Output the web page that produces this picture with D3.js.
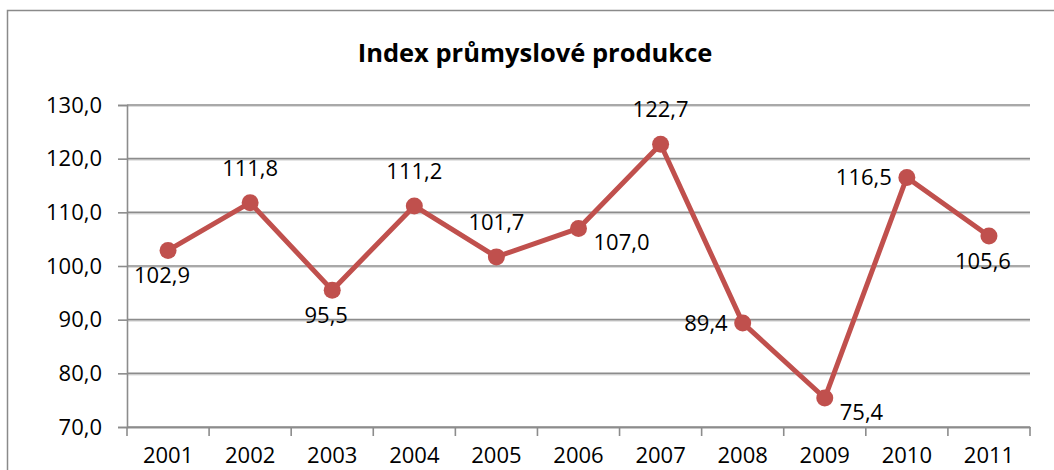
<!DOCTYPE html>
<html><head><meta charset="utf-8">
<script src="https://cdn.jsdelivr.net/npm/d3@7"></script>
<style>body{margin:0;background:#fff;}svg{display:block;}</style>
</head><body>
<svg id="c" width="1054" height="470"></svg>
<script>
const title = "Index průmyslové produkce";
const years = ["2001","2002","2003","2004","2005","2006","2007","2008","2009","2010","2011"];
const values = [102.9,111.8,95.5,111.2,101.7,107.0,122.7,89.4,75.4,116.5,105.6];
const labelPos = ["below","above","below","above","above","right","above","left","right","left","below"];
const yTicks = [70,80,90,100,110,120,130];

const svg = d3.select("#c");
const font = "'Open Sans', sans-serif";
const fs = 22;
const fmt = v => v.toFixed(1).replace(".", ",");

// outer frame
svg.append("rect").attr("x",7.5).attr("y",10.5).attr("width",1100).attr("height",600)
  .attr("fill","none").attr("stroke","#8a8a8a").attr("stroke-width",1.5);

const L = 127, R = 1030, T = 105, B = 427;
const x = d3.scaleBand().domain(years).range([L, R]);
const y = d3.scaleLinear().domain([70,130]).range([B, T]);

// gridlines
const g = svg.append("g");
yTicks.forEach(t => {
  g.append("line").attr("x1",L).attr("x2",R).attr("y1",y(t)+1.5).attr("y2",y(t)+1.5)
    .attr("stroke","#dcdcdc").attr("stroke-width",1.2);
  g.append("line").attr("x1",L).attr("x2",R).attr("y1",y(t)).attr("y2",y(t))
    .attr("stroke","#8c8c8c").attr("stroke-width",1.6);
});

// y axis
const yAxis = d3.axisLeft(y).tickValues(yTicks).tickSize(9).tickPadding(16).tickFormat(fmt);
const ya = svg.append("g").attr("transform",`translate(${L},0)`).call(yAxis);
ya.select(".domain").attr("stroke","#8c8c8c").attr("stroke-width",1.6);
ya.selectAll(".tick line").attr("stroke","#8c8c8c").attr("stroke-width",1.6);
ya.selectAll("text").attr("font-family",font).attr("font-size",fs).attr("fill","#000");

// x axis
const xAxis = d3.axisBottom(x).tickSize(0).tickPadding(20);
const xa = svg.append("g").attr("transform",`translate(0,${B})`).call(xAxis);
xa.select(".domain").attr("stroke","#8c8c8c").attr("stroke-width",1.6);
xa.selectAll("text").attr("font-family",font).attr("font-size",fs).attr("fill","#000");
// category boundary ticks
const bounds = years.map(d => x(d)).concat([R]);
xa.selectAll(".bt").data(bounds).enter().append("line")
  .attr("x1",d=>d).attr("x2",d=>d).attr("y1",0).attr("y2",9)
  .attr("stroke","#8c8c8c").attr("stroke-width",1.6);

// title
svg.append("text").attr("x",535).attr("y",62).attr("text-anchor","middle")
  .attr("font-family",font).attr("font-weight","bold").attr("font-size",25.5).text(title);

// line
const cx = d => x(d) + x.bandwidth()/2;
const line = d3.line().x((d,i)=>cx(years[i])).y(d=>y(d));
svg.append("path").datum(values).attr("d",line).attr("fill","none")
  .attr("stroke","#C0504D").attr("stroke-width",5).attr("stroke-linejoin","round");
svg.selectAll(".pt").data(values).enter().append("circle")
  .attr("cx",(d,i)=>cx(years[i])).attr("cy",d=>y(d)).attr("r",8.5).attr("fill","#C0504D");

// labels
svg.selectAll(".lbl").data(values).enter().append("text")
  .attr("font-family",font).attr("font-size",fs).attr("fill","#000")
  .attr("text-anchor",(d,i)=>labelPos[i]==="left"?"end":labelPos[i]==="right"?"start":"middle")
  .attr("x",(d,i)=>{
    const p = labelPos[i], c = cx(years[i]);
    return p==="left" ? c-15 : p==="right" ? c+15 : p==="below" ? c-6 : c;
  })
  .attr("y",(d,i)=>{
    const p = labelPos[i], c = y(d);
    return p==="above" ? c-27 : p==="below" ? c+33 : p==="right" ? c+22 : c+8;
  })
  .text(d=>fmt(d));
</script>
</body></html>
